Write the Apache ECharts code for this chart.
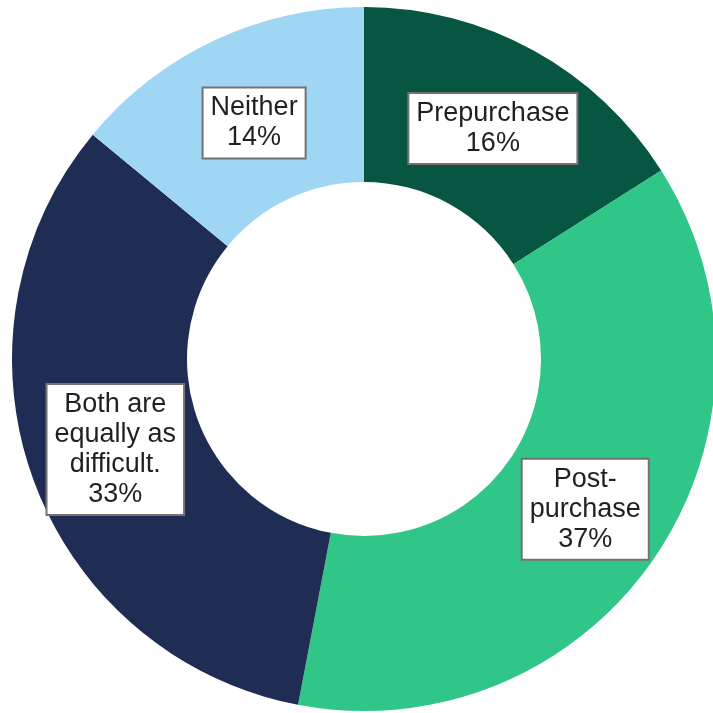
<!DOCTYPE html>
<html>
<head>
<meta charset="utf-8">
<style>
  html, body { margin: 0; padding: 0; background: #ffffff; }
  #chart { width: 713px; height: 713px; }
</style>
<script src="https://cdn.jsdelivr.net/npm/echarts@6/dist/echarts.min.js"></script>
</head>
<body>
<div id="chart"></div>
<script>
// Share of respondents by which stage they find more difficult
const categories = ['Prepurchase', 'Post-purchase', 'Both are equally as difficult.', 'Neither'];
const labelNames = ['Prepurchase', 'Post-\npurchase', 'Both are\nequally as\ndifficult.', 'Neither'];
const values = [16, 37, 33, 14];
const colors = ['#065641', '#30c687', '#1f2c53', '#9ed6f4'];

// small nudges of the boxed labels away from the ring's mid-line
const labelOffsets = [[0, 4], [0, 0], [3, 0], [4, 6]];

const chart = echarts.init(document.getElementById('chart'), null, { renderer: 'canvas' });

const data = categories.map((name, i) => ({
  name: name,
  value: values[i],
  itemStyle: { color: colors[i] },
  label: {
    formatter: labelNames[i] + '\n' + values[i] + '%',
    offset: labelOffsets[i]
  }
}));

chart.setOption({
  backgroundColor: '#ffffff',
  animation: false,
  series: [{
    type: 'pie',
    center: [364, 359],
    radius: [177, 352],
    startAngle: 90,
    clockwise: true,
    avoidLabelOverlap: false,
    silent: true,
    itemStyle: { borderWidth: 0 },
    label: {
      show: true,
      position: 'inside',
      fontFamily: 'Liberation Sans, Arial, Helvetica, sans-serif',
      fontSize: 27,
      lineHeight: 30,
      color: '#231f20',
      align: 'center',
      backgroundColor: '#ffffff',
      borderColor: '#767171',
      borderWidth: 2,
      padding: [5, 7, 4, 7]
    },
    labelLine: { show: false },
    emphasis: { disabled: true },
    data: data
  }]
});
</script>
</body>
</html>
